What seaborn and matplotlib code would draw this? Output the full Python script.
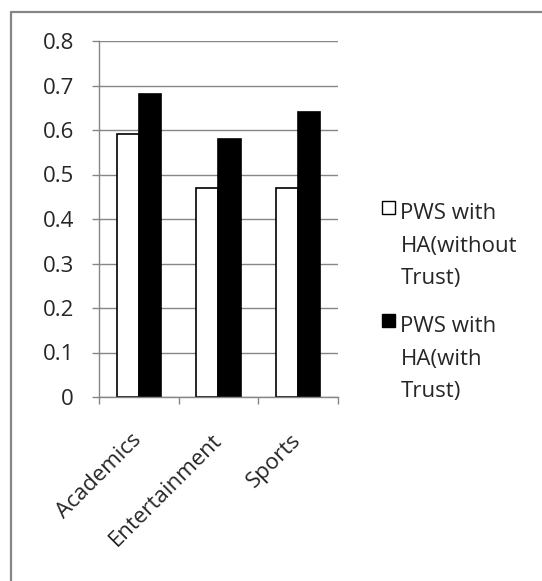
import matplotlib
matplotlib.use("Agg")
import matplotlib.pyplot as plt
import matplotlib.lines as mlines
import matplotlib.patches as mpatches
from matplotlib.legend_handler import HandlerPatch
import pandas as pd
import seaborn as sns

# %%
categories = ["Academics", "Entertainment", "Sports"]
series_names = ["PWS with\nHA(without\nTrust)", "PWS with\nHA(with\nTrust)"]
without_trust = [0.59, 0.47, 0.47]
with_trust = [0.68, 0.58, 0.64]
y_ticks = [0, 0.1, 0.2, 0.3, 0.4, 0.5, 0.6, 0.7, 0.8]
y_tick_labels = ["0", "0.1", "0.2", "0.3", "0.4", "0.5", "0.6", "0.7", "0.8"]

df = pd.DataFrame({
    "category": categories * 2,
    "value": without_trust + with_trust,
    "series": [series_names[0]] * 3 + [series_names[1]] * 3,
})

# %%
sns.set_style("white")
plt.rcParams["font.family"] = ["Open Sans", "DejaVu Sans"]
grey = "#868686"
fs = 16

fig = plt.figure(figsize=(5.42, 5.81), dpi=100)
ax = fig.add_axes([99 / 542, 1 - 397 / 581, 239 / 542, 356 / 581])

sns.barplot(data=df, x="category", y="value", hue="series", order=categories,
            hue_order=series_names, palette=["white", "black"], width=0.56,
            edgecolor="black", linewidth=1.2, saturation=1, ax=ax, legend=True)

ax.set_xlim(-0.5, 2.5)
ax.set_ylim(0, 0.8)
ax.set_yticks(y_ticks)
ax.set_yticklabels(y_tick_labels)
ax.yaxis.grid(True, color=grey, linewidth=1.0)
ax.set_axisbelow(True)
ax.set_xlabel("")
ax.set_ylabel("")

for side in ["top", "right"]:
    ax.spines[side].set_visible(False)
for side in ["left", "bottom"]:
    ax.spines[side].set_color(grey)
    ax.spines[side].set_linewidth(1.0)

ax.tick_params(axis="y", which="major", left=True, length=5, width=1.0, color=grey,
               pad=13, labelsize=fs, direction="out")
ax.set_xticks([-0.5, 0.5, 1.5, 2.5], minor=True)
ax.tick_params(axis="x", which="minor", bottom=True, length=5, width=1.0, color=grey,
               direction="out")
ax.tick_params(axis="x", which="major", bottom=False, length=0, pad=29, labelsize=fs)
for lbl in ax.get_xticklabels():
    lbl.set_rotation(45)
    lbl.set_ha("right")
    lbl.set_va("center")
    lbl.set_rotation_mode("anchor")


# square sits next to the first line of the label
def top_square(legend, orig_handle, xdescent, ydescent, width, height, fontsize):
    return mpatches.Rectangle((-xdescent, -ydescent + 28), width, height)


handles, labels = ax.get_legend_handles_labels()
leg = ax.legend(handles, labels, loc="upper left", bbox_to_anchor=(382 / 542, 1 - 203 / 581),
                bbox_transform=fig.transFigure, frameon=False, fontsize=fs,
                handlelength=0.58, handleheight=0.58, handletextpad=0.25,
                labelspacing=1.2, borderpad=0, borderaxespad=0,
                handler_map={mpatches.Rectangle: HandlerPatch(patch_func=top_square)})
for t in leg.get_texts():
    t.set_linespacing(1.73)
for h in leg.legend_handles:
    h.set_edgecolor("black")
    h.set_linewidth(1.0)

# chart frame (only top and left visible in the crop)
fig.add_artist(mlines.Line2D([11 / 542, 11 / 542], [0, 1 - 12 / 581], color=grey, linewidth=1.6))
fig.add_artist(mlines.Line2D([11 / 542, 1], [1 - 12 / 581, 1 - 12 / 581], color=grey, linewidth=1.6))

fig.savefig("out.png", dpi=100, facecolor="white")
